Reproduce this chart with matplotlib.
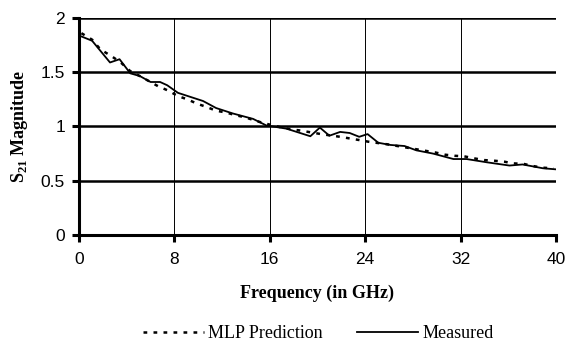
import matplotlib
matplotlib.use("Agg")
from matplotlib import pyplot as plt

plt.rcParams['mathtext.fontset'] = 'custom'
plt.rcParams['mathtext.bf'] = 'Liberation Serif:bold'
plt.rcParams['mathtext.rm'] = 'Liberation Serif'

# Measured S21 magnitude
freq_meas = [0.2, 1.1, 2.6, 3.4, 4.3, 5.1, 6.0, 6.8, 7.4, 8.3, 10.4, 11.5, 12.9,
             14.6, 15.7, 17.4, 19.4, 20.2, 21.0, 21.9, 22.7, 23.5, 24.2, 25.1,
             26.1, 27.3, 28.3, 29.7, 31.4, 32.5, 34.2, 36.1, 37.2, 38.9, 40.0]
s21_meas = [1.83, 1.79, 1.59, 1.62, 1.49, 1.465, 1.41, 1.41, 1.38, 1.31, 1.235,
            1.17, 1.12, 1.07, 1.01, 0.98, 0.91, 0.99, 0.915, 0.95, 0.94, 0.905,
            0.93, 0.85, 0.83, 0.82, 0.78, 0.75, 0.70, 0.70, 0.67, 0.64, 0.65,
            0.615, 0.605]

# MLP prediction
freq_mlp = [0.2, 1.1, 1.8, 2.7, 3.5, 4.3, 5.1, 6.65, 7.5, 8.3, 9.1, 9.9, 10.7,
            11.5, 12.3, 13.1, 13.9, 15.5, 16.3, 17.2, 17.8, 18.7, 19.5, 20.3,
            21.9, 22.7, 23.5, 24.25, 25.9, 28.3, 29.1, 29.9, 30.7, 31.5, 32.3,
            33.2, 34.0, 34.8, 35.7, 36.4, 37.3, 38.1, 38.9, 39.8]
s21_mlp = [1.86, 1.80, 1.71, 1.65, 1.59, 1.51, 1.465, 1.37, 1.33, 1.28, 1.25,
           1.21, 1.18, 1.145, 1.13, 1.105, 1.085, 1.03, 1.01, 0.985, 0.975,
           0.96, 0.945, 0.93, 0.905, 0.89, 0.875, 0.86, 0.835, 0.79, 0.775,
           0.76, 0.74, 0.73, 0.725, 0.705, 0.69, 0.685, 0.675, 0.66, 0.655,
           0.635, 0.62, 0.615]

x_ticks = [0, 8, 16, 24, 32, 40]
y_ticks = [0, 0.5, 1, 1.5, 2]

fig = plt.figure(figsize=(5.7, 3.44), dpi=100)
ax = fig.add_axes([0.1386, 0.3169, 0.8368, 0.6308])

mlp_line, = ax.plot(freq_mlp, s21_mlp, color="black", linestyle=(0, (1.5, 2.5)),
                    linewidth=1.8)
meas_line, = ax.plot(freq_meas, s21_meas, color="black", linewidth=1.3)

ax.set_xlim(0, 40)
ax.set_ylim(0, 2)
ax.set_xticks(x_ticks)
ax.set_yticks(y_ticks)
ax.set_yticklabels(["0", "0.5", "1", "1.5", "2"])

# heavy horizontal grid, thin vertical grid
for y in y_ticks[1:]:
    ax.axhline(y, color="black", linewidth=1.8, zorder=0)
for x in x_ticks[1:]:
    ax.axvline(x, color="black", linewidth=0.7, zorder=0)

for side in ["top", "right"]:
    ax.spines[side].set_visible(False)
ax.spines["left"].set_linewidth(2.2)
ax.spines["bottom"].set_linewidth(2.2)
ax.tick_params(direction="out", length=5, width=2.2, labelsize=12.5,
               labelfontfamily="Liberation Sans")
ax.tick_params(axis="x", pad=7)
ax.tick_params(axis="y", pad=5)

ax.set_xlabel("Frequency (in GHz)", fontfamily="Liberation Serif",
              fontweight="bold", fontsize=13, labelpad=13)
ax.set_ylabel(r"S$_{\mathbf{21}}$ Magnitude", fontfamily="Liberation Serif",
              fontweight="bold", fontsize=13, labelpad=8)

fig.legend([mlp_line, meas_line], ["MLP Prediction", "Measured"],
           loc="center", bbox_to_anchor=(0.558, 0.03), ncol=2, frameon=False,
           prop={"family": "Liberation Serif", "size": 13},
           handlelength=3.4, handletextpad=0.22, columnspacing=1.9)

fig.savefig("out.png", dpi=100)
